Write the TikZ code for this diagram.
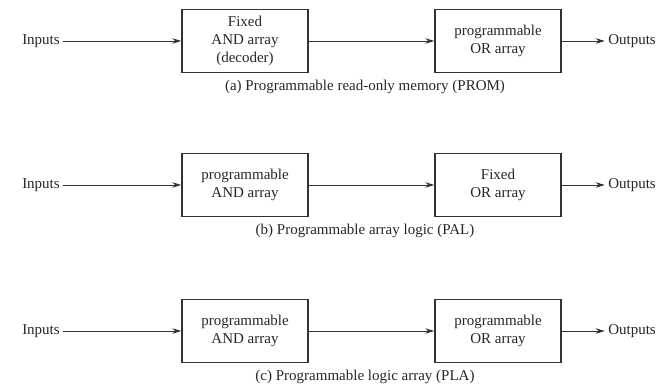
\documentclass[tikz,border=0pt]{standalone}
\usepackage{fontspec}
\setmainfont{Liberation Serif}
\usetikzlibrary{arrows.meta}

\begin{document}
\begin{tikzpicture}[x=1pt,y=1pt,
  every node/.style={font=\fontsize{15}{18}\selectfont, text=black!85},
  arraybox/.style={draw=black!80, line width=1.4pt, minimum width=126pt, minimum height=63pt, inner sep=0pt, align=center},
  flow/.style={draw=black!80, line width=0.8pt, -{Stealth[length=9pt,width=5.5pt]}}]
  \useasboundingbox (0,0) rectangle (670,385);
  %
  \foreach \y/\n/\andtxt/\ortxt/\captxt in {
      344/a/{Fixed\\AND array\\(decoder)}/{programmable\\OR array}/{(a) Programmable read-only memory (PROM)},
      200/b/{programmable\\AND array}/{Fixed\\OR array}/{(b) Programmable array logic (PAL)},
      54/c/{programmable\\AND array}/{programmable\\OR array}/{(c) Programmable logic array (PLA)}} {
    \node (in\n) at (41,\y) {Inputs};
    \node[arraybox] (and\n) at (245,\y) {\andtxt};
    \node[arraybox] (or\n) at (498,\y) {\ortxt};
    \node (out\n) at (632,\y) {Outputs};
    \node (cap\n) at (365,\y-46) {\captxt};
    \draw[flow] (in\n) -- (and\n);
    \draw[flow] (and\n) -- (or\n);
    \draw[flow] (or\n) -- (out\n);
  }
\end{tikzpicture}
\end{document}
